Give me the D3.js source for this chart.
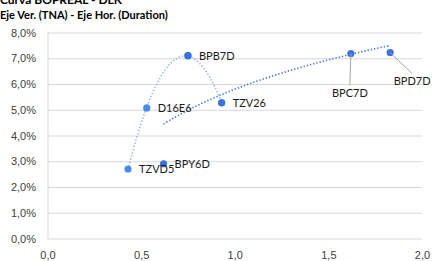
<!DOCTYPE html>
<html>
<head>
<meta charset="utf-8">
<script src="https://cdn.jsdelivr.net/npm/d3@7"></script>
<style>
body { margin: 0; background: #fff; }
svg { display: block; font-family: Lato, "Liberation Sans", sans-serif; }
.tick text { fill: #404040; font-size: 11px; }
.lbl { fill: #1a1a1a; font-size: 11px; }
</style>
</head>
<body>
<svg id="chart" width="434" height="261"></svg>
<script>
// bonos y valores
var bonos = ["TZVD5", "D16E6", "BPY6D", "BPB7D", "TZV26", "BPC7D", "BPD7D"];
var duration = [0.43, 0.53, 0.62, 0.75, 0.93, 1.62, 1.83];
var tna = [2.7, 5.07, 2.9, 7.1, 5.27, 7.18, 7.22];
// grupos de cada tendencia
var serieLetras = ["TZVD5", "D16E6", "BPB7D", "TZV26"];
var serieBopreal = ["BPY6D", "BPB7D", "TZV26", "BPC7D", "BPD7D"];
var xTicks = [0, 0.5, 1, 1.5, 2];
var yTicks = [0, 1, 2, 3, 4, 5, 6, 7, 8];

var pts = bonos.map(function(b, i) { return {name: b, x: duration[i], y: tna[i]}; });
function pick(names) { return pts.filter(function(p) { return names.indexOf(p.name) >= 0; }); }

var svg = d3.select("#chart");
var x = d3.scaleLinear().domain([0, 2]).range([47.5, 422]);
var y = d3.scaleLinear().domain([0, 8]).range([238.5, 32.5]);
var fmt = function(d) { return d.toFixed(1).replace(".", ","); };

svg.append("text").attr("x", 0).attr("y", 4).attr("font-weight", "bold").attr("font-size", "12px").attr("fill", "#000").text("Curva BOPREAL - DLK");
svg.append("text").attr("x", 0).attr("y", 19).attr("font-weight", "bold").attr("font-size", "11px").attr("fill", "#000").text("Eje Ver. (TNA) - Eje Hor. (Duration)");

// grilla horizontal
var grid = svg.append("g").attr("transform", "translate(47.5,0)").call(d3.axisLeft(y).tickValues(yTicks).tickSize(47.5 - 422).tickFormat(""));
grid.select(".domain").remove();
grid.selectAll("line").attr("stroke", "#d9d9d9");
svg.append("line").attr("x1", 48).attr("x2", 48).attr("y1", y(8)).attr("y2", y(0)).attr("stroke", "#d9d9d9");

var yaxis = svg.append("g").attr("transform", "translate(36,0)").call(d3.axisLeft(y).tickValues(yTicks).tickSize(0).tickPadding(0).tickFormat(function(d) { return fmt(d) + "%"; }));
yaxis.select(".domain").remove();
var xaxis = svg.append("g").attr("transform", "translate(0,251)").call(d3.axisBottom(x).tickValues(xTicks).tickSize(0).tickPadding(0).tickFormat(fmt));
xaxis.select(".domain").remove();

// tendencias: polinomica grado 2 y logaritmica
function polyFit(ps) {
	var S = [0, 0, 0, 0, 0], T = [0, 0, 0];
	ps.forEach(function(p) {
		for (var k = 0; k < 5; k++) S[k] += Math.pow(p.x, k);
		for (var k = 0; k < 3; k++) T[k] += Math.pow(p.x, k) * p.y;
	});
	var M = [[S[0], S[1], S[2], T[0]], [S[1], S[2], S[3], T[1]], [S[2], S[3], S[4], T[2]]];
	for (var i = 0; i < 3; i++) {
		for (var j = i + 1; j < 3; j++) {
			var f = M[j][i] / M[i][i];
			for (var k = i; k < 4; k++) M[j][k] -= f * M[i][k];
		}
	}
	var c = [0, 0, 0];
	for (var i = 2; i >= 0; i--) {
		var s = M[i][3];
		for (var k = i + 1; k < 3; k++) s -= M[i][k] * c[k];
		c[i] = s / M[i][i];
	}
	return function(v) { return c[0] + c[1] * v + c[2] * v * v; };
}
function logFit(ps) {
	var lx = ps.map(function(p) { return Math.log(p.x); });
	var mx = d3.mean(lx), my = d3.mean(ps, function(p) { return p.y; });
	var sxy = d3.sum(ps, function(p, i) { return (lx[i] - mx) * (p.y - my); });
	var sxx = d3.sum(lx, function(v) { return (v - mx) * (v - mx); });
	var b = sxy / sxx, a = my - b * mx;
	return function(v) { return a + b * Math.log(v); };
}
function trend(ps, fn, color) {
	var ext = d3.extent(ps, function(p) { return p.x; });
	var xs = d3.range(0, 61).map(function(i) { return ext[0] + (ext[1] - ext[0]) * i / 60; });
	svg.append("path").datum(xs).attr("fill", "none").attr("stroke", color).attr("stroke-width", 1.6).attr("stroke-dasharray", "1.3,2")
		.attr("d", d3.line().x(function(v) { return x(v); }).y(function(v) { return y(fn(v)); }).curve(d3.curveBasis));
}
var letras = pick(serieLetras), bop = pick(serieBopreal);
trend(letras, polyFit(letras), "#8eb0f2");
trend(bop, logFit(bop), "#3b72dc");

// puntos
svg.selectAll("circle.l").data(letras).enter().append("circle").attr("cx", function(p) { return x(p.x); }).attr("cy", function(p) { return y(p.y); }).attr("r", 3.6).attr("fill", "#4a8bef");
svg.selectAll("circle.b").data(bop).enter().append("circle").attr("cx", function(p) { return x(p.x); }).attr("cy", function(p) { return y(p.y); }).attr("r", 3.6).attr("fill", "#3b72dc");

// etiquetas, las dos ultimas van con linea guia
var leader = {BPC7D: [-1, 43], BPD7D: [22, 32]};
pts.forEach(function(p) {
	var px = x(p.x), py = y(p.y);
	if (leader[p.name]) {
		var off = leader[p.name];
		svg.append("line").attr("x1", px).attr("y1", py).attr("x2", px + off[0]).attr("y2", py + off[1] - 11).attr("stroke", "#a6a6a6").attr("stroke-width", 1);
		svg.append("text").attr("class", "lbl").attr("x", px + off[0]).attr("y", py + off[1]).attr("text-anchor", "middle").text(p.name);
	} else {
		svg.append("text").attr("class", "lbl").attr("x", px + 11).attr("y", py + 4).text(p.name);
	}
});
</script>
</body>
</html>
